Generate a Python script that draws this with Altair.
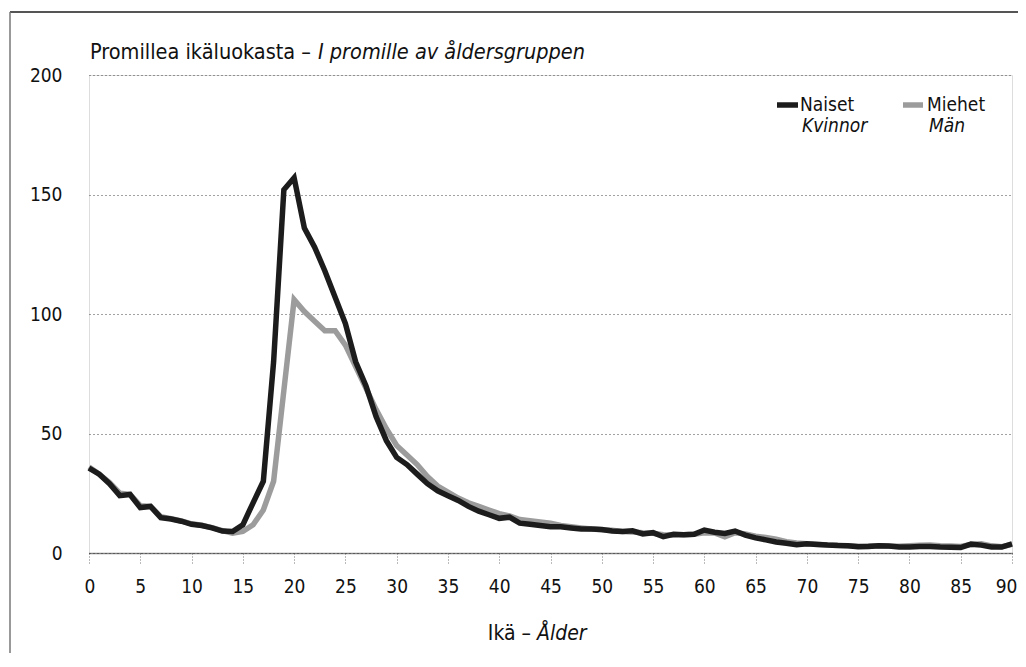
import altair as alt
import pandas as pd

ages = list(range(0, 91))
naiset = [35.5, 33, 29, 24, 24.5, 19, 19.5, 14.8, 14.2, 13.3,
          12, 11.5, 10.5, 9.2, 9, 11.8, 21, 30, 80, 152,
          157, 136, 128, 118, 107, 96, 80, 70, 57, 47,
          40, 37, 33, 29, 26, 24, 22, 19.5, 17.5, 16,
          14.5, 15, 12.5, 12, 11.5, 11, 11, 10.5, 10, 10,
          9.8, 9.2, 9, 9.3, 8, 8.5, 6.8, 7.8, 7.6, 7.8,
          9.6, 8.7, 8.2, 9.2, 7.5, 6.3, 5.5, 4.6, 4.1, 3.5,
          3.9, 3.6, 3.3, 3.1, 3, 2.6, 2.7, 3, 2.9, 2.5,
          2.5, 2.7, 2.7, 2.5, 2.4, 2.3, 3.7, 3.3, 2.5, 2.5,
          3.8]
miehet = [36, 33, 29.5, 25, 24.5, 19.8, 19.5, 15.2, 14.4, 13.4,
          12.2, 11.6, 10.6, 9.4, 8.3, 9, 11.8, 18, 30, 68,
          106, 101, 97, 93, 93, 87, 78, 69, 60, 52,
          45, 41, 37, 32, 28, 25.5, 23, 21, 19.5, 18,
          16.5, 15.5, 14, 13.5, 13, 12.5, 11.5, 11, 10.5, 10,
          9.7, 9.5, 9, 8.8, 8.5, 8.3, 7.6, 7.5, 7.6, 7.8,
          8.5, 8.4, 6.8, 8.5, 8, 7, 6.5, 5.8, 4.7, 4.2,
          3.9, 3.7, 3.4, 3.2, 3, 2.8, 2.9, 3, 2.8, 2.8,
          3, 3.2, 3.3, 3, 2.9, 2.7, 3.6, 3.9, 3, 2.6,
          3.6]

x_ticks = list(range(0, 91, 5))
y_ticks = [0, 50, 100, 150, 200]

W, H = 923, 478
FONT = "Liberation Sans Narrow, DejaVu Sans Condensed, Roboto, sans-serif"
FS = 19

df_n = pd.DataFrame({"age": ages, "value": naiset})
df_m = pd.DataFrame({"age": ages, "value": miehet})

xenc = alt.X("age:Q", scale=alt.Scale(domain=[0, 90], nice=False),
             axis=alt.Axis(values=x_ticks, title=None, grid=False,
                           tickSize=12, tickDash=[1, 2], tickColor="#777",
                           domainColor="#222", domainDash=[1, 1], domainWidth=1.5,
                           labelPadding=12, labelFlush=True, labelFlushOffset=5,
                           labelFont=FONT, labelFontSize=FS, labelColor="#111"))
yenc = alt.Y("value:Q", scale=alt.Scale(domain=[0, 200], nice=False),
             axis=alt.Axis(values=y_ticks, title=None, ticks=False, domain=False,
                           grid=True, gridDash=[1, 3], gridColor="#444", gridWidth=1,
                           labelPadding=27,
                           labelFont=FONT, labelFontSize=FS, labelColor="#111"))

line_m = alt.Chart(df_m).mark_line(color="#9c9c9c", strokeWidth=5.5, strokeJoin="miter",
                                   strokeCap="butt").encode(x=xenc, y=yenc)
line_n = alt.Chart(df_n).mark_line(color="#1c1c1c", strokeWidth=5.5, strokeJoin="miter",
                                   strokeCap="butt").encode(x="age:Q", y="value:Q")

one = alt.Data(values=[{}])

def txt(s, x, y, italic=False, align="left", size=FS):
    return alt.Chart(one).mark_text(
        text=s, font=FONT, fontSize=size, align=align, baseline="middle",
        fontStyle="italic" if italic else "normal", color="#111"
    ).encode(x=alt.value(x), y=alt.value(y))

def rule(x, x2, y, y2, color, width):
    return alt.Chart(one).mark_rule(color=color, strokeWidth=width).encode(
        x=alt.value(x), x2=alt.value(x2), y=alt.value(y), y2=alt.value(y2))

layers = [
    line_m, line_n,
    # chart title (y-axis unit)
    txt("Promillea ikäluokasta –", 1, -22, size=21.5),
    txt("I promille av åldersgruppen", 229, -22, italic=True, size=21.5),
    # x-axis title
    txt("Ikä –", 442, H + 81, align="right", size=21),
    txt("Ålder", 448, H + 81, italic=True, size=21),
    # legend
    rule(688, 709, 30, 30, "#1c1c1c", 5.5),
    txt("Naiset", 711, 30),
    txt("Kvinnor", 713, 51, italic=True),
    rule(814, 834, 30, 30, "#9c9c9c", 5.5),
    txt("Miehet", 838, 30),
    txt("Män", 840, 51, italic=True),
    # outer frame
    rule(-79, 945, -63, -63, "#555", 2),
    rule(-79, -79, -63, H + 120, "#777", 1.5),
]

chart = alt.layer(*layers).properties(
    width=W, height=H,
    autosize=alt.AutoSizeParams(type="none"),
    padding={"left": 81, "top": 67, "right": 6, "bottom": 100},
).configure_view(
    stroke="#333", strokeDash=[1, 2], strokeWidth=1
).configure(background="white")

chart.save("out.html", embed_options={"renderer": "svg", "actions": False})
